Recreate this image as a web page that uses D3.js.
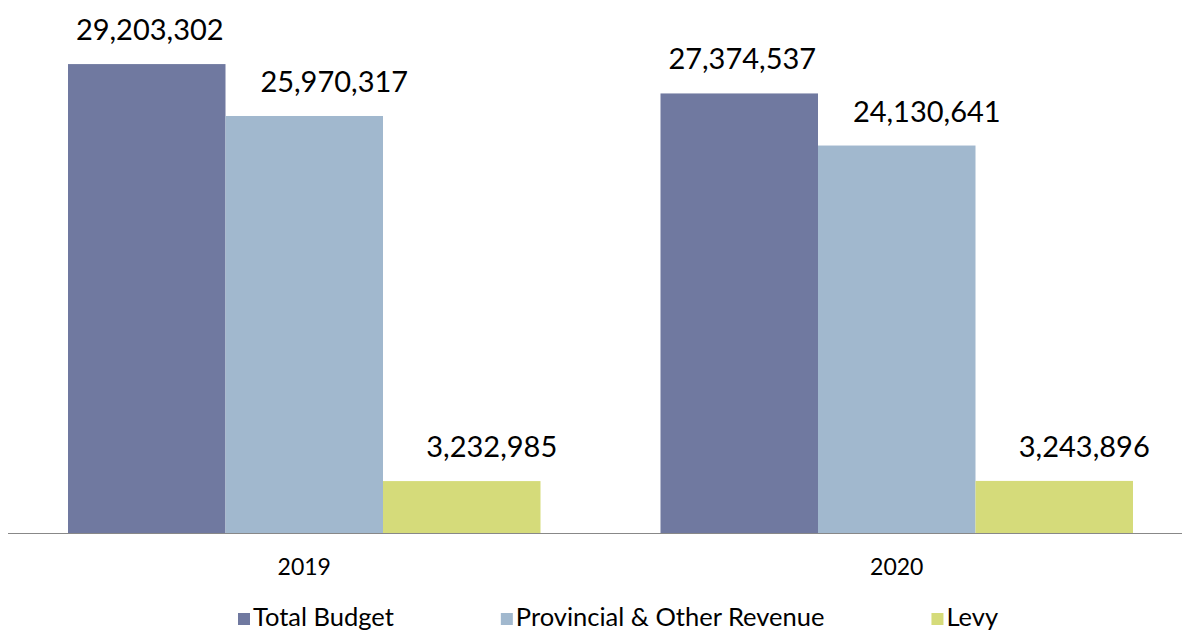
<!DOCTYPE html>
<html>
<head>
<meta charset="utf-8">
<script src="https://cdn.jsdelivr.net/npm/d3@7"></script>
<style>
  html, body { margin: 0; padding: 0; background: #fff; }
  svg { display: block; font-family: Lato, "Open Sans", sans-serif; }
</style>
</head>
<body>
<div id="chart"></div>
<script>
const years = ['2019', '2020'];
const seriesNames = ['Total Budget', 'Provincial & Other Revenue', 'Levy'];
const totalBudget = [29203302, 27374537];
const provincialRevenue = [25970317, 24130641];
const levy = [3232985, 3243896];

const colors = ['#7079a0', '#a1b8ce', '#d5db7a'];
// data labels in the source sit a bit right of the bar centre
const labelShift = [3, 30, 30];

const width = 1182;
const height = 630;
const baseY = 533;

const seriesValues = [totalBudget, provincialRevenue, levy];
const rows = years.map((year, i) => ({
  year,
  values: seriesNames.map((name, s) => ({ name, s, value: seriesValues[s][i] }))
}));

const svg = d3.select('#chart')
  .append('svg')
  .attr('width', width)
  .attr('height', height);

const x0 = d3.scaleBand()
  .domain(years)
  .range([8, 1193])
  .padding(0);

const x1 = d3.scaleBand()
  .domain(seriesNames)
  .range([60, x0.bandwidth() - 60]);

const y = d3.scaleLinear()
  .domain([0, 35000000])
  .range([baseY, -29]);

const fmt = d3.format(',');

const group = svg.append('g')
  .selectAll('g')
  .data(rows)
  .join('g')
  .attr('transform', d => `translate(${x0(d.year)},0)`);

group.selectAll('rect')
  .data(d => d.values)
  .join('rect')
  .attr('x', d => x1(d.name))
  .attr('y', d => y(d.value))
  .attr('width', x1.bandwidth())
  .attr('height', d => y(0) - y(d.value))
  .attr('fill', d => colors[d.s]);

group.selectAll('text.value')
  .data(d => d.values)
  .join('text')
  .attr('class', 'value')
  .attr('x', d => x1(d.name) + x1.bandwidth() / 2 + labelShift[d.s])
  .attr('y', d => y(d.value) - 24)
  .attr('text-anchor', 'middle')
  .attr('font-size', 29)
  .attr('fill', '#000')
  .text(d => fmt(d.value));

// baseline
svg.append('line')
  .attr('x1', 8)
  .attr('x2', 1193)
  .attr('y1', baseY + 0.5)
  .attr('y2', baseY + 0.5)
  .attr('stroke', '#888')
  .attr('stroke-width', 1.2);

// category labels
svg.append('g')
  .selectAll('text')
  .data(years)
  .join('text')
  .attr('x', d => x0(d) + x0.bandwidth() / 2)
  .attr('y', 575)
  .attr('text-anchor', 'middle')
  .attr('font-size', 23)
  .attr('fill', '#000')
  .text(d => d);

// legend (sits at the very bottom, descenders get clipped like the source)
const legend = svg.append('g').attr('transform', 'translate(238,0)');
let lx = 0;
seriesNames.forEach((name, i) => {
  const item = legend.append('g').attr('transform', `translate(${lx},0)`);
  item.append('rect')
    .attr('x', 0)
    .attr('y', 613)
    .attr('width', 12)
    .attr('height', 12)
    .attr('fill', colors[i]);
  const t = item.append('text')
    .attr('x', 15)
    .attr('y', 626)
    .attr('font-size', 25.5)
    .attr('fill', '#000')
    .text(name);
  lx += 15 + t.node().getComputedTextLength() + 107;
});
</script>
</body>
</html>
